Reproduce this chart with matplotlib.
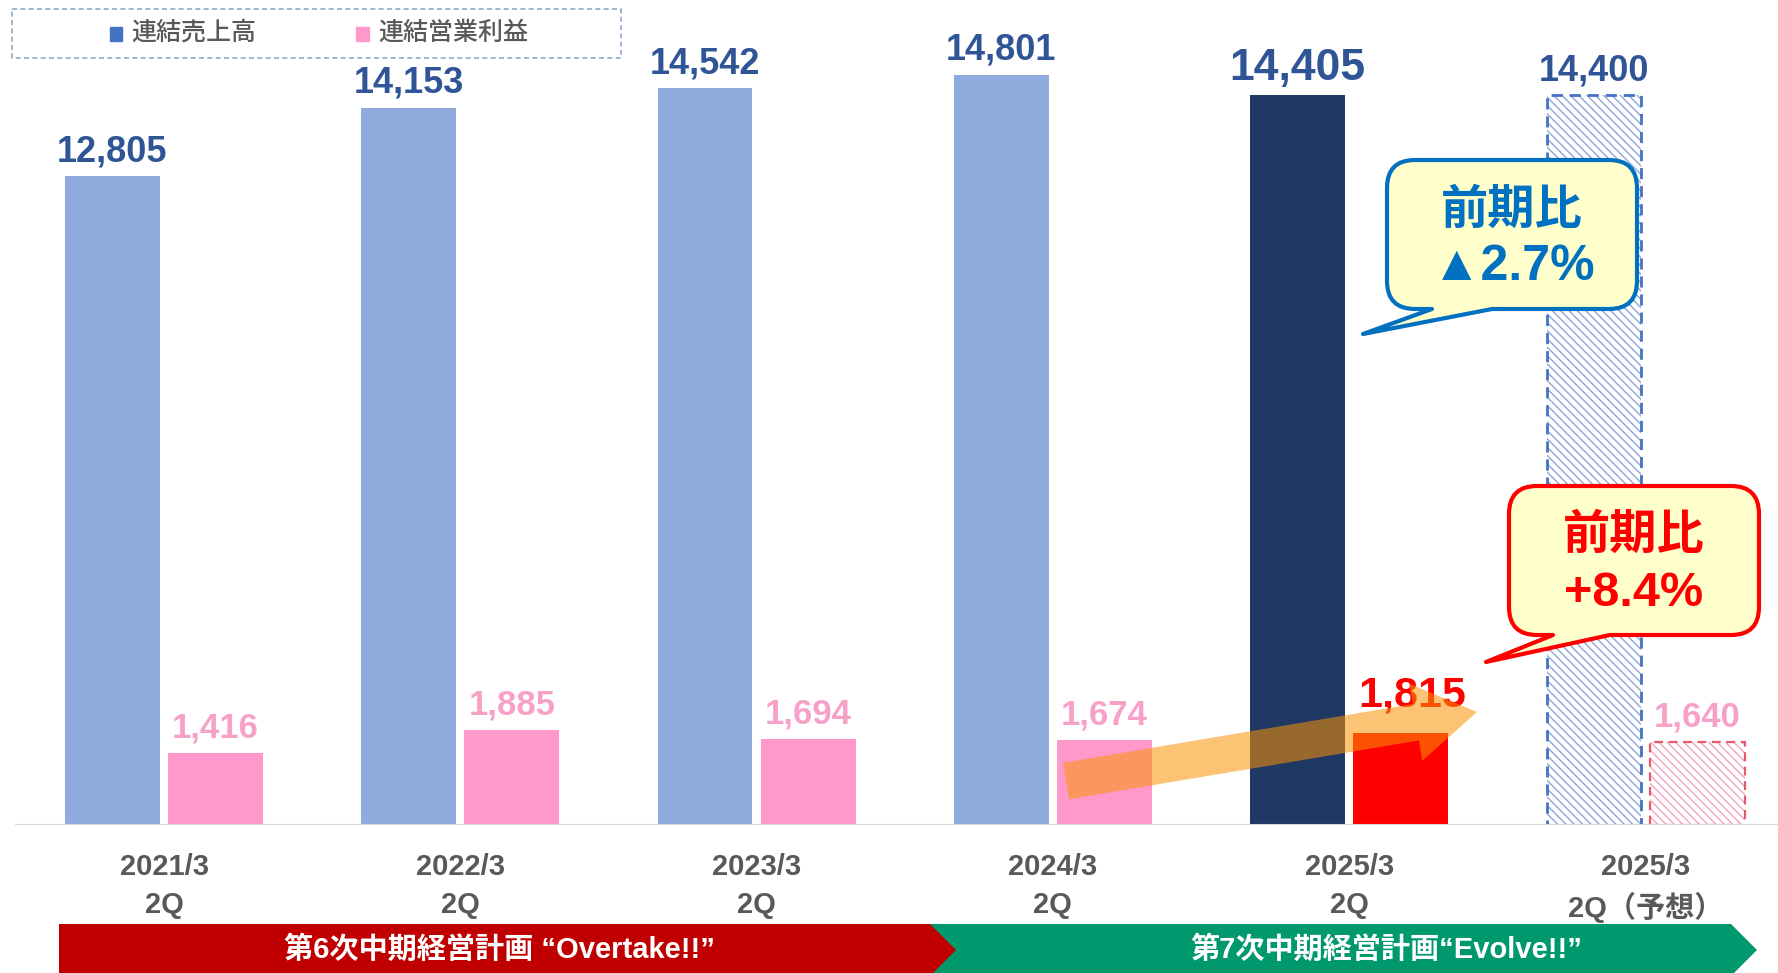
import numpy as np
import matplotlib
matplotlib.use('Agg')
import matplotlib.pyplot as plt
from matplotlib.patches import Rectangle, Polygon, PathPatch, FancyArrow
from matplotlib.path import Path

plt.rcParams['font.family'] = ['Liberation Sans', 'Noto Sans CJK JP']
plt.rcParams['hatch.linewidth'] = 1.0

# data
periods = ['2021/3\n2Q', '2022/3\n2Q', '2023/3\n2Q', '2024/3\n2Q', '2025/3\n2Q', '2025/3\n2Q（予想）']
sales = [12805, 14153, 14542, 14801, 14405, 14400]
profit = [1416, 1885, 1694, 1674, 1815, 1640]
legend_labels = ['連結売上高', '連結営業利益']
plan_labels = ['第6次中期経営計画 “Overtake!!”', '第7次中期経営計画“Evolve!!”']
sales_yoy = ['前期比', '▲2.7%']
profit_yoy = ['前期比', '+8.4%']

# styles
sales_colors = ['#8FAADC'] * 4 + ['#203864', 'white']
profit_colors = ['#FF99CC'] * 4 + ['#FF0000', 'white']
sales_label_colors = ['#2F5597'] * 6
profit_label_colors = ['#F7A1C9'] * 4 + ['#FF0000', '#F7A1C9']
sales_fs = [26, 26, 26, 26, 32, 26]
profit_fs = [25, 25, 25, 25, 31, 25]
profit_pad = [(0, 11)] * 4 + [(8, 19), (0, 11)]

W, H = 1778, 973
fig = plt.figure(figsize=(W / 100, H / 100), dpi=100)
ax = fig.add_axes([0, 148 / H, 1, 1 - 148 / H])

x = np.arange(len(periods))
w = 0.32
off = 0.174

for i in range(len(periods)):
    if i < 5:
        ax.bar(x[i] - off, sales[i], w, color=sales_colors[i], zorder=2)
        ax.bar(x[i] + off, profit[i], w, color=profit_colors[i], zorder=2)
    else:
        # forecast: hatched with dashed outline
        ax.bar(x[i] - off, sales[i], w, color='white', hatch='\\\\\\\\',
               edgecolor='#8EA6D6', linewidth=0, zorder=2)
        ax.bar(x[i] - off, sales[i], w, fill=False, edgecolor='#4472C4',
               linestyle=(0, (4, 2.5)), linewidth=2, zorder=3)
        ax.bar(x[i] + off, profit[i], w, color='white', hatch='\\\\\\\\',
               edgecolor='#F4A3C4', linewidth=0, zorder=2)
        ax.bar(x[i] + off, profit[i], w, fill=False, edgecolor='#E85A6A',
               linestyle=(0, (4, 2.5)), linewidth=1.6, zorder=3)

    ax.annotate(f'{sales[i]:,}', (x[i] - off, sales[i]), xytext=(0, 11),
                textcoords='offset points', ha='center', va='baseline',
                fontsize=sales_fs[i], fontweight='bold', color=sales_label_colors[i])
    ax.annotate(f'{profit[i]:,}', (x[i] + off, profit[i]), xytext=profit_pad[i],
                textcoords='offset points', ha='center', va='baseline',
                fontsize=profit_fs[i], fontweight='bold', color=profit_label_colors[i])

ax.axhline(0, xmin=16 / W, xmax=1, color='#D9D9D9', lw=1.5, zorder=4)
ax.set_xlim(-0.5535, 5.447)
ax.set_ylim(0, 16285)
ax.set_xticks(x)
ax.set_xticklabels(periods, fontsize=21, fontweight='bold', color='#595959',
                   linespacing=1.45, va='top')
ax.tick_params(axis='x', length=0, pad=20)
ax.set_yticks([])
for s in ax.spines.values():
    s.set_visible(False)

# overlay in pixel coordinates for legend, banner, callouts
ov = fig.add_axes([0, 0, 1, 1], zorder=5)
ov.set_xlim(0, W)
ov.set_ylim(H, 0)
ov.axis('off')

# legend
ov.add_patch(Rectangle((12, 9), 609, 49, fill=False, ec='#8EA9C8', lw=1.2,
                       ls=(0, (3, 2))))
ov.add_patch(Rectangle((110, 27), 12, 14, color='#4472C4'))
ov.add_patch(Rectangle((356, 27), 13, 14, color='#FF99CC'))
ov.text(131, 33, legend_labels[0], fontsize=18, color='#595959', va='center',
        fontweight='medium', family=['Noto Sans CJK JP'])
ov.text(378, 33, legend_labels[1], fontsize=18, color='#595959', va='center',
        fontweight='medium', family=['Noto Sans CJK JP'])

# plan banner
ov.add_patch(Polygon([(930, 924), (1731, 924), (1757, 950), (1731, 976), (930, 976)],
                     closed=True, color='#00996E', lw=0))
ov.add_patch(Polygon([(59, 924), (930, 924), (956, 950), (930, 976), (59, 976)],
                     closed=True, color='#C00000', lw=0))
ov.text(499, 950, plan_labels[0], color='white', fontsize=21, fontweight='bold',
        ha='center', va='center')
ov.text(1386, 950, plan_labels[1], color='white', fontsize=21, fontweight='bold',
        ha='center', va='center')

# growth arrow
ov.add_patch(FancyArrow(1066, 781, 411, -69, width=37, head_width=78, head_length=62,
                        length_includes_head=True, color='#FA9304', alpha=0.55, lw=0))


def callout(x0, y0, x1, y1, r, ta, tb, tip):
    verts = [(x0 + r, y0), (x1 - r, y0), (x1, y0), (x1, y0 + r), (x1, y1 - r),
             (x1, y1), (x1 - r, y1), (tb, y1), tip, (ta, y1), (x0 + r, y1),
             (x0, y1), (x0, y1 - r), (x0, y0 + r), (x0, y0), (x0 + r, y0), (x0 + r, y0)]
    codes = [Path.MOVETO, Path.LINETO, Path.CURVE3, Path.CURVE3, Path.LINETO,
             Path.CURVE3, Path.CURVE3, Path.LINETO, Path.LINETO, Path.LINETO,
             Path.LINETO, Path.CURVE3, Path.CURVE3, Path.LINETO, Path.CURVE3,
             Path.CURVE3, Path.CLOSEPOLY]
    return Path(verts, codes)


ov.add_patch(PathPatch(callout(1387, 160, 1637, 309, 28, 1432, 1492, (1363, 334)),
                       fc='#FFFFCC', ec='#0070C0', lw=3, joinstyle='round'))
ov.text(1512, 210, sales_yoy[0], color='#0070C0', fontsize=34, fontweight='bold',
        ha='center', va='center', family=['Noto Sans CJK JP'])
ov.text(1514, 267, sales_yoy[1], color='#0070C0', fontsize=36, fontweight='bold',
        ha='center', va='center')

ov.add_patch(PathPatch(callout(1509, 486, 1759, 635, 28, 1553, 1610, (1486, 662)),
                       fc='#FFFFCC', ec='#FF0000', lw=3, joinstyle='round'))
ov.text(1634, 535, profit_yoy[0], color='#FF0000', fontsize=34, fontweight='bold',
        ha='center', va='center', family=['Noto Sans CJK JP'])
ov.text(1634, 594, profit_yoy[1], color='#FF0000', fontsize=35, fontweight='bold',
        ha='center', va='center')

fig.savefig('out.png', dpi=100)
